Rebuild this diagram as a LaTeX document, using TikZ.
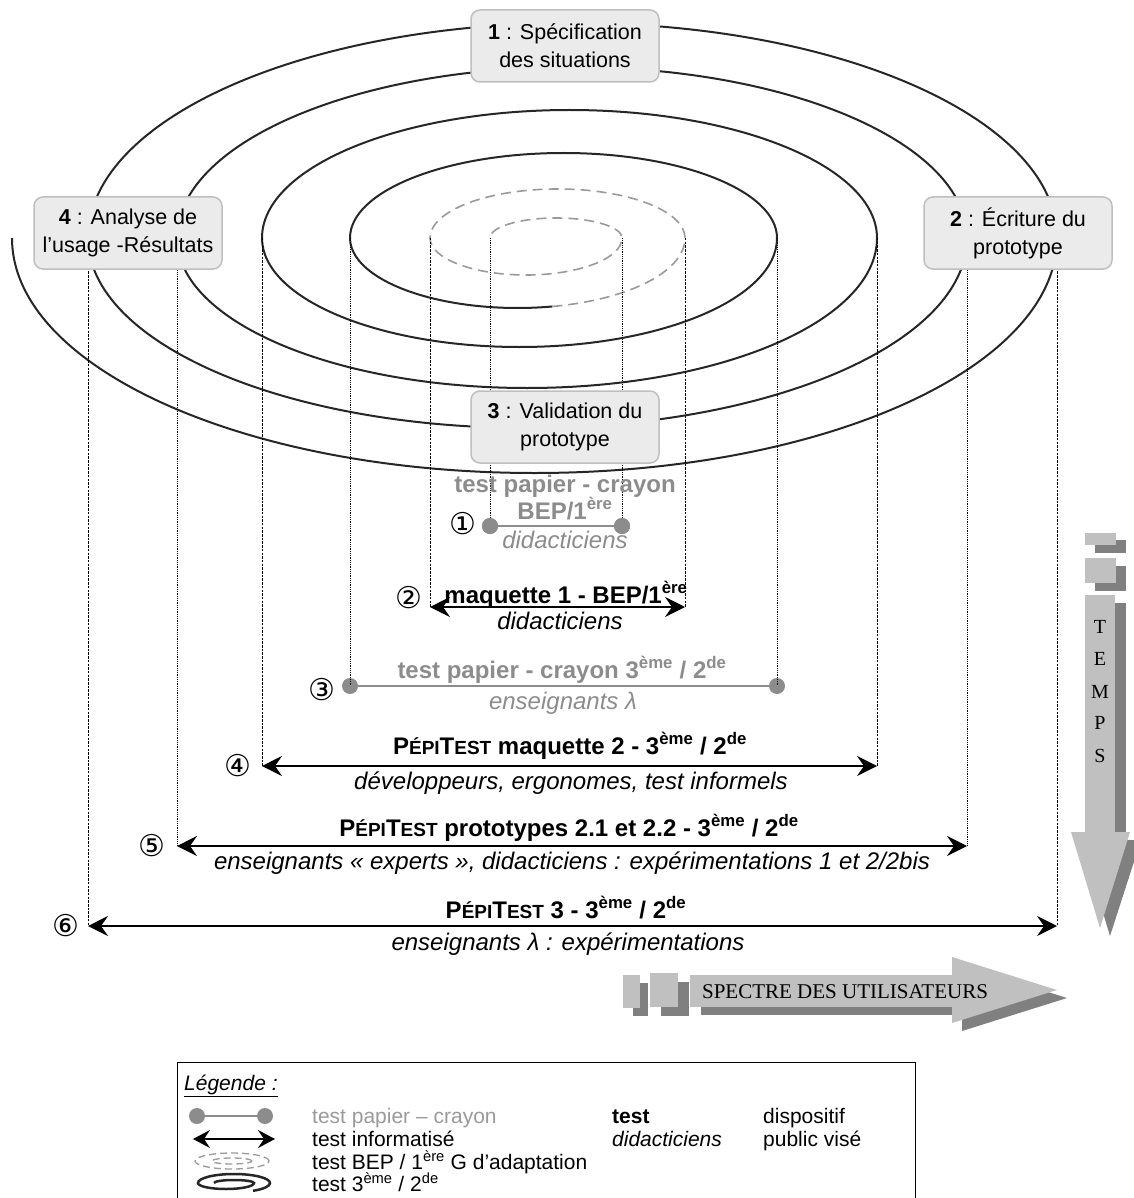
\documentclass[tikz,border=0pt]{standalone}
\usepackage{fontspec}
\setmainfont{Liberation Sans}
\newfontfamily\serifface{Liberation Serif}
\newfontfamily\symface{DejaVu Sans}
\usetikzlibrary{arrows.meta}
\definecolor{boxfill}{HTML}{EBEBEB}
\definecolor{boxline}{HTML}{BFBFBF}
\definecolor{spir}{HTML}{262626}
\definecolor{dgray}{HTML}{9A9A9A}
\definecolor{tgray}{HTML}{8C8C8C}
\definecolor{lshade}{HTML}{C0C0C0}
\definecolor{dshade}{HTML}{808080}
\newcommand{\pepi}{P{\fontsize{19}{20}\selectfont ÉPI}T{\fontsize{19}{20}\selectfont EST}}
\begin{document}
\begin{tikzpicture}[x=1pt,y=-1pt,
  phase/.style={draw=boxline, fill=boxfill, line width=1.5pt, rounded corners=9pt,
    minimum width=188pt, minimum height=72pt, align=center, inner sep=0pt,
    font=\fontsize{21.5}{28}\selectfont},
  spiral/.style={draw=spir, line width=2pt},
  dspiral/.style={draw=dgray, line width=1.6pt, dash pattern=on 10pt off 6pt},
  guideA/.style={draw=black, line width=0.8pt, dash pattern=on 2.5pt off 1.2pt},
  guideB/.style={draw=black, line width=0.6pt, dash pattern=on 0.8pt off 1pt},
  tarrow/.style={draw=black, line width=1.5pt,
    {Stealth[length=20pt,width=20pt,inset=7pt]}-{Stealth[length=20pt,width=20pt,inset=7pt]}},
  ltarrow/.style={draw=black, line width=1.5pt,
    {Stealth[length=17pt,width=18pt,inset=6pt]}-{Stealth[length=17pt,width=18pt,inset=6pt]}},
  pline/.style={draw=tgray, line width=2pt},
  pdot/.style={circle, fill=tgray, minimum size=16pt, inner sep=0pt},
  ttl/.style={anchor=base, inner sep=0pt, font=\fontsize{24}{26}\selectfont\bfseries},
  sub/.style={anchor=base, inner sep=0pt, font=\fontsize{24}{26}\selectfont\itshape},
  num/.style={inner sep=0pt, font=\fontsize{30}{32}\symface},
  leg/.style={anchor=base west, inner sep=0pt, font=\fontsize{21}{24}\selectfont},
  lshape/.style={fill=lshade, draw=none},
  dshape/.style={fill=dshade, draw=none},
  tletter/.style={inner sep=0pt, font=\fontsize{20}{22}\serifface}
]
\useasboundingbox (0,0) rectangle (1133,1198);

% ---------- spiral ----------
\draw[spiral] (12,238)
  arc[start angle=180,end angle=360,x radius=522.5pt,y radius=235pt]
  arc[start angle=0,end angle=180,x radius=484.5pt,y radius=215pt]
  arc[start angle=180,end angle=360,x radius=439.5pt,y radius=190pt]
  arc[start angle=0,end angle=180,x radius=395pt,y radius=171pt]
  arc[start angle=180,end angle=360,x radius=350pt,y radius=150pt]
  arc[start angle=0,end angle=180,x radius=307.5pt,y radius=128pt]
  arc[start angle=180,end angle=360,x radius=257.5pt,y radius=109pt]
  arc[start angle=0,end angle=180,x radius=213.5pt,y radius=85pt]
  arc[start angle=180,end angle=282,x radius=167.5pt,y radius=70pt] coordinate (sw);
\draw[dspiral] (sw)
  arc[start angle=282,end angle=360,x radius=167.5pt,y radius=70pt]
  arc[start angle=0,end angle=180,x radius=127.5pt,y radius=49pt]
  arc[start angle=180,end angle=360,x radius=96pt,y radius=37pt]
  arc[start angle=0,end angle=180,x radius=66pt,y radius=20pt];

% ---------- axis points ----------
\coordinate (g88) at (88,238);
\coordinate (g177) at (177,238);
\coordinate (g262) at (262,238);
\coordinate (g350) at (350,238);
\coordinate (g430) at (430,238);
\coordinate (g490) at (490,238);
\coordinate (g622) at (622,238);
\coordinate (g685) at (685,238);
\coordinate (g777) at (777,238);
\coordinate (g877) at (877,238);
\coordinate (g967) at (967,238);
\coordinate (g1057) at (1057,238);

% ---------- row end points ----------
\node[pdot] (d1l) at (490,526) {};
\node[pdot] (d1r) at (622,526) {};
\coordinate (a2l) at (430,607);
\coordinate (a2r) at (685,607);
\node[pdot] (d3l) at (350,686) {};
\node[pdot] (d3r) at (777,686) {};
\coordinate (a4l) at (262,766);
\coordinate (a4r) at (877,766);
\coordinate (a5l) at (177,846);
\coordinate (a5r) at (967,846);
\coordinate (a6l) at (88,926);
\coordinate (a6r) at (1057,926);

% ---------- guides ----------
\draw[guideA] (g88) -- (a6l);
\draw[guideB] (g177) -- (a5l);
\draw[guideA] (g262) -- (a4l);
\draw[guideB] (g350) -- (d3l.center);
\draw[guideA] (g430) -- (a2l);
\draw[guideB] (g490) -- (d1l.center);
\draw[guideB] (g622) -- (d1r.center);
\draw[guideA] (g685) -- (a2r);
\draw[guideB] (g777) -- (d3r.center);
\draw[guideA] (g877) -- (a4r);
\draw[guideB] (g967) -- (a5r);
\draw[guideA] (g1057) -- (a6r);

% ---------- phase boxes ----------
\node[phase] (b1) at (565,46) {\textbf{1} : Spécification\\des situations};
\node[phase] (b4) at (128,233) {\textbf{4} : Analyse de\\l’usage -Résultats};
\node[phase] (b2) at (1018,233) {\textbf{2} : Écriture du\\prototype};
\node[phase] (b3) at (565,427) {\textbf{3} : Validation du\\prototype};

% ---------- rows ----------
\draw[pline] (d1l) -- (d1r);
\node[pdot] at (d1l) {};
\node[pdot] at (d1r) {};
\node[ttl, text=tgray] (t1a) at (565,492) {test papier - crayon};
\node[ttl, text=tgray] (t1b) at (565,519) {BEP/1\textsuperscript{ère}};
\node[sub, text=tgray] (s1) at (565,548) {didacticiens};
\node[num] (n1) at (463,524) {①};

\draw[tarrow] (a2l) -- (a2r);
\node[ttl] (t2) at (566,603) {maquette 1 - BEP/1\textsuperscript{ère}};
\node[sub] (s2) at (560,629) {didacticiens};
\node[num] (n2) at (409,598) {②};

\draw[pline] (d3l) -- (d3r);
\node[ttl, text=tgray] (t3) at (562,678) {test papier - crayon 3\textsuperscript{ème} / 2\textsuperscript{de}};
\node[sub, text=tgray] (s3) at (563,709) {enseignants λ};
\node[num] (n3) at (322,690) {③};

\draw[tarrow] (a4l) -- (a4r);
\node[ttl] (t4) at (570,754) {\pepi{} maquette 2 - 3\textsuperscript{ème} / 2\textsuperscript{de}};
\node[sub] (s4) at (571,789) {développeurs, ergonomes, test informels};
\node[num] (n4) at (238,766) {④};

\draw[tarrow] (a5l) -- (a5r);
\node[ttl] (t5) at (569,836) {\pepi{} prototypes 2.1 et 2.2 - 3\textsuperscript{ème} / 2\textsuperscript{de}};
\node[sub] (s5) at (572,869) {enseignants « experts », didacticiens : expérimentations 1 et 2/2bis};
\node[num] (n5) at (152,846) {⑤};

\draw[tarrow] (a6l) -- (a6r);
\node[ttl] (t6) at (566,918) {\pepi{} 3 - 3\textsuperscript{ème} / 2\textsuperscript{de}};
\node[sub] (s6) at (568,950) {enseignants λ : expérimentations};
\node[num] (n6) at (66,926) {⑥};

% ---------- TEMPS arrow ----------
\fill[dshape] (1095,540) rectangle (1126,553);
\fill[lshape] (1085,533) rectangle (1116,545);
\fill[dshape] (1095,566) rectangle (1126,591);
\fill[lshape] (1085,558) rectangle (1116,583);
\fill[dshape] (1095,603) rectangle (1126,842);
\fill[dshape] (1081,840) -- (1141,840) -- (1110,936) -- cycle;
\fill[lshape] (1085,595) rectangle (1115,834);
\fill[lshape] (1071,832) -- (1130,832) -- (1100,928) -- cycle;
\node[tletter] (tT) at (1100,627) {T};
\node[tletter] (tE) at (1100,659) {E};
\node[tletter] (tM) at (1100,692) {M};
\node[tletter] (tP) at (1100,723) {P};
\node[tletter] (tS) at (1100,756) {S};

% ---------- SPECTRE arrow ----------
\fill[dshape] (633,983) rectangle (648,1016);
\fill[lshape] (623,975) rectangle (640,1008);
\fill[dshape] (661,982) rectangle (689,1016);
\fill[lshape] (650,973) rectangle (678,1007);
\fill[dshape] (701,983) rectangle (963,1015);
\fill[dshape] (962,965) -- (962,1031) -- (1067,998) -- cycle;
\fill[lshape] (690,975) rectangle (954,1007);
\fill[lshape] (952,957) -- (952,1023) -- (1057,990) -- cycle;
\node[inner sep=0pt, font=\fontsize{21}{22}\serifface] (spec) at (845,992) {SPECTRE DES UTILISATEURS};

% ---------- legend ----------
\draw[line width=1pt] (177,1215) -- (177,1062) -- (915,1062) -- (915,1215);
\node[leg, font=\fontsize{21}{24}\selectfont\itshape] (lt) at (184,1090) {\underline{Légende :}};
\node[pdot] (ld1) at (197,1116) {};
\node[pdot] (ld2) at (265,1116) {};
\draw[pline] (ld1) -- (ld2);
\coordinate (la1) at (193,1139);
\coordinate (la2) at (275,1139);
\draw[ltarrow] (la1) -- (la2);
\draw[draw=dgray, line width=1.3pt, dash pattern=on 7pt off 4pt] (232,1161) ellipse[x radius=37pt, y radius=8pt];
\draw[draw=dgray, line width=1.3pt, dash pattern=on 7pt off 4pt] (232,1161) ellipse[x radius=20pt, y radius=3pt];
\draw[spir, line width=2.5pt] (214,1183)
  arc[start angle=180,end angle=0,x radius=20pt,y radius=3pt]
  arc[start angle=0,end angle=-180,x radius=28pt,y radius=6pt]
  arc[start angle=180,end angle=0,x radius=36pt,y radius=9pt]
  arc[start angle=0,end angle=-60,x radius=34pt,y radius=9pt];
\node[leg, text=dgray] (l1) at (312,1123) {test papier – crayon};
\node[leg] (l2) at (312,1146) {test informatisé};
\node[leg] (l3) at (312,1169) {test BEP / 1\textsuperscript{ère} G d’adaptation};
\node[leg] (l4) at (312,1191) {test 3\textsuperscript{ème} / 2\textsuperscript{de}};
\node[leg, font=\fontsize{21}{24}\selectfont\bfseries] (l5) at (612,1123) {test};
\node[leg, font=\fontsize{21}{24}\selectfont\itshape] (l6) at (612,1146) {didacticiens};
\node[leg] (l7) at (763,1123) {dispositif};
\node[leg] (l8) at (763,1146) {public visé};
\end{tikzpicture}
\end{document}
